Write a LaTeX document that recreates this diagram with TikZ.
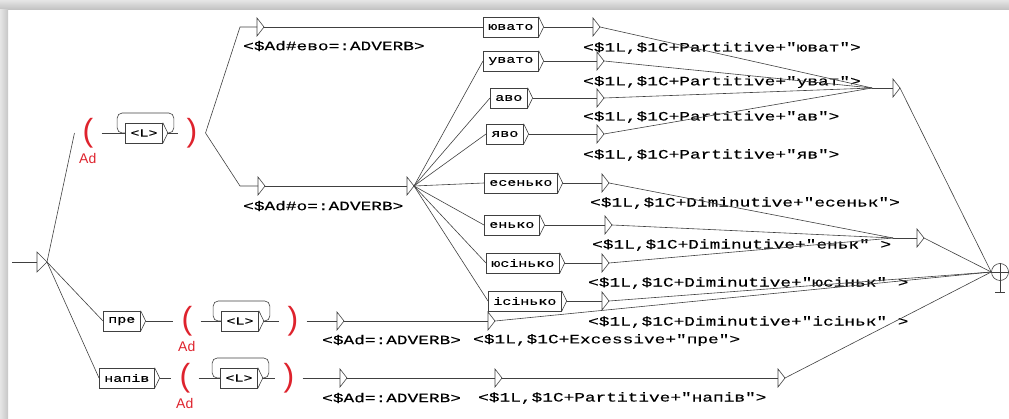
\documentclass[tikz,border=0pt]{standalone}
\usepackage{fontspec}
\usetikzlibrary{positioning}
\newfontfamily\unimono[FakeStretch=1.39,FakeBold=0.3]{Liberation Mono}
\newfontfamily\unisans{Liberation Sans}
\newcommand{\boxfont}{\unimono\fontsize{10.8}{12}\selectfont}
\newcommand{\labfont}{\unimono\fontsize{12.8}{14}\selectfont}
\newcommand{\parfont}{\unisans\fontsize{32}{34}\selectfont}
\newcommand{\adfont}{\unisans\fontsize{14}{16}\selectfont}
\definecolor{unired}{RGB}{222,35,45}

\begin{document}
\begin{tikzpicture}[x=1pt,y=-1pt,
    wire/.style={draw=black!75,line width=0.6pt},
    wbox/.style={draw=black!75,line width=0.6pt,minimum height=20pt,inner xsep=5pt,inner ysep=0pt,font=\boxfont},
    outlab/.style={anchor=west,inner sep=0pt,font=\labfont},
    paren/.style={text=unired,inner xsep=8pt,inner ysep=0pt,font=\parfont},
    adlab/.style={text=unired,inner sep=0pt,font=\adfont}]
  \useasboundingbox (0,0) rectangle (1009,419);
  \shade[top color=gray!20,bottom color=gray!50] (0,0) rectangle (1009,10);
  \shade[left color=gray!20,right color=gray!45] (0,10) rectangle (8,419);

  % Ad groups
  \node[paren] (op1) at (88,133) {(};
  \node[adlab,below right=5pt and -9pt of op1.south] (ad1) {Ad};
  \node[wbox] (l1) at (144,133) {<L>};
  \node[paren] (cp1) at (192,133) {)};
  \node[wbox,anchor=west] (pre) at (103,321) {пре};
  \node[paren] (op2) at (187,321) {(};
  \node[adlab,below right=5pt and -9pt of op2.south] (ad2) {Ad};
  \node[wbox] (l2) at (240,321) {<L>};
  \node[paren] (cp2) at (293,321) {)};
  \node[wbox,anchor=west] (napiv) at (99,378) {напів};
  \node[paren] (op3) at (185,378) {(};
  \node[adlab,below right=5pt and -9pt of op3.south] (ad3) {Ad};
  \node[wbox] (l3) at (239,378) {<L>};
  \node[paren] (cp3) at (289,378) {)};

  % word boxes
  \node[wbox,anchor=west] (yuvato) at (483,27) {ювато};
  \node[wbox,anchor=west] (uvato) at (483,61) {увато};
  \node[wbox,anchor=west] (avo) at (490,98) {аво};
  \node[wbox,anchor=west] (yavo) at (486,134) {яво};
  \node[wbox,anchor=west] (esenko) at (484,183) {есенько};
  \node[wbox,anchor=west] (enko) at (484,225) {енько};
  \node[wbox,anchor=west] (yusinko) at (486,263) {юсінько};
  \node[wbox,anchor=west] (isinko) at (488,301) {ісінько};
  \foreach \b in {yuvato,uvato,avo,yavo,esenko,enko,yusinko,isinko,pre,napiv,l1,l2,l3}
    \draw[wire] (\b.north east) -- ([xshift=5pt]\b.east) -- (\b.south east);

  % states
  \coordinate (arr) at (12,262);
  \coordinate (init) at (37,262);
  \coordinate (b1) at (240,27);
  \coordinate (b2) at (240,186);
  \coordinate (t0) at (257,27);
  \coordinate (m0) at (258,186);
  \coordinate (hub) at (407,186);
  \coordinate (p1) at (593,27);
  \coordinate (p2) at (597,61);
  \coordinate (p3) at (597,98);
  \coordinate (p4) at (597,134);
  \coordinate (d1) at (602,183);
  \coordinate (d2) at (605,225);
  \coordinate (d3) at (602,263);
  \coordinate (d4) at (602,301);
  \coordinate (c1in) at (872,88);
  \coordinate (c1) at (893,88);
  \coordinate (c2in) at (893,238);
  \coordinate (c2) at (917,238);
  \coordinate (s2a) at (337,321);
  \coordinate (s2b) at (488,321);
  \coordinate (s3a) at (340,378);
  \coordinate (s3b) at (495,378);
  \coordinate (s3c) at (778,378);
  \draw[wire] (init) -- ++(0pt,10pt) -- ++(10pt,-10pt) -- ++(-10pt,-10pt) -- cycle;
  \foreach \s in {t0,m0,hub,p1,p2,p3,p4,d1,d2,d3,d4,c1,c2,s2a,s2b,s3a,s3b,s3c}
    \draw[wire] (\s) -- ++(0pt,9pt) -- ++(7pt,-9pt) -- ++(-7pt,-9pt) -- cycle;
  \node[circle,wire,minimum size=17pt,inner sep=0pt] (fin) at (1000,272) {};
  \draw[wire] (fin.west) -- (fin.east);
  \draw[wire] (fin.north) -- ([yshift=-12pt]fin.south);
  \draw[wire] ([xshift=-5pt,yshift=-12pt]fin.south) -- ([xshift=5pt,yshift=-12pt]fin.south);

  % outputs
  \node[outlab] (lt0) at (243,46) {<\$Ad\#ево=:ADVERB>};
  \node[outlab] (lm0) at (243,206) {<\$Ad\#о=:ADVERB>};
  \node[outlab] (lp1) at (583,48) {<\$1L,\$1C+Partitive+"юват">};
  \node[outlab] (lp2) at (583,82) {<\$1L,\$1C+Partitive+"уват">};
  \node[outlab] (lp3) at (583,117) {<\$1L,\$1C+Partitive+"ав">};
  \node[outlab] (lp4) at (583,155) {<\$1L,\$1C+Partitive+"яв">};
  \node[outlab] (ld1) at (590,203) {<\$1L,\$1C+Diminutive+"есеньк">};
  \node[outlab] (ld2) at (592,245) {<\$1L,\$1C+Diminutive+"еньк" >};
  \node[outlab] (ld3) at (588,283) {<\$1L,\$1C+Diminutive+"юсіньк" >};
  \node[outlab] (ld4) at (588,322) {<\$1L,\$1C+Diminutive+"ісіньк" >};
  \node[outlab] (ls2a) at (322,340) {<\$Ad=:ADVERB>};
  \node[outlab] (ls2b) at (473,340) {<\$1L,\$1C+Excessive+"пре">};
  \node[outlab] (ls3a) at (322,398) {<\$Ad=:ADVERB>};
  \node[outlab] (ls3b) at (478,398) {<\$1L,\$1C+Partitive+"напів">};

  % transitions
  \draw[wire] (arr) -- (init);
  \foreach \b in {op1,pre,napiv}
    \draw[wire] ([xshift=10pt]init) -- (\b.west);
  \foreach \i in {1,2,3}{
    \draw[wire] (op\i.east) -- (l\i.west);
    \draw[wire] ([xshift=5pt]l\i.east) -- (cp\i.west);
    \draw[wire,rounded corners=5pt] ([xshift=5pt]l\i.east) -- ++(6pt,0pt) -- ++(0pt,20pt) -| ([xshift=-8pt]l\i.west) -- (l\i.west);}
  \draw[wire] ([xshift=5pt]pre.east) -- (op2.west);
  \draw[wire] ([xshift=5pt]napiv.east) -- (op3.west);
  \draw[wire] (cp1.east) -- (b1) -- (t0);
  \draw[wire] (cp1.east) -- (b2) -- (m0);
  \draw[wire] ([xshift=7pt]t0) -- (yuvato.west);
  \draw[wire] ([xshift=5pt]yuvato.east) -- (p1);
  \draw[wire] ([xshift=7pt]m0) -- (hub);
  \foreach \b in {uvato,avo,yavo,esenko,enko,yusinko,isinko}
    \draw[wire] ([xshift=7pt]hub) -- (\b.west);
  \foreach \b/\s in {uvato/p2,avo/p3,yavo/p4,esenko/d1,enko/d2,yusinko/d3,isinko/d4}
    \draw[wire] ([xshift=5pt]\b.east) -- (\s);
  \foreach \s in {p1,p2,p3,p4}
    \draw[wire] ([xshift=7pt]\s) -- (c1in);
  \draw[wire] (c1in) -- (c1);
  \foreach \s in {d1,d2,d3}
    \draw[wire] ([xshift=7pt]\s) -- (c2in);
  \draw[wire] (c2in) -- (c2);
  \draw[wire] (cp2.east) -- (s2a);
  \draw[wire] ([xshift=7pt]s2a) -- (s2b);
  \draw[wire] (cp3.east) -- (s3a);
  \draw[wire] ([xshift=7pt]s3a) -- (s3b);
  \draw[wire] ([xshift=7pt]s3b) -- (s3c);
  \foreach \s in {c1,c2,d4,s2b,s3c}
    \draw[wire] ([xshift=7pt]\s) -- (fin.west);
\end{tikzpicture}
\end{document}
